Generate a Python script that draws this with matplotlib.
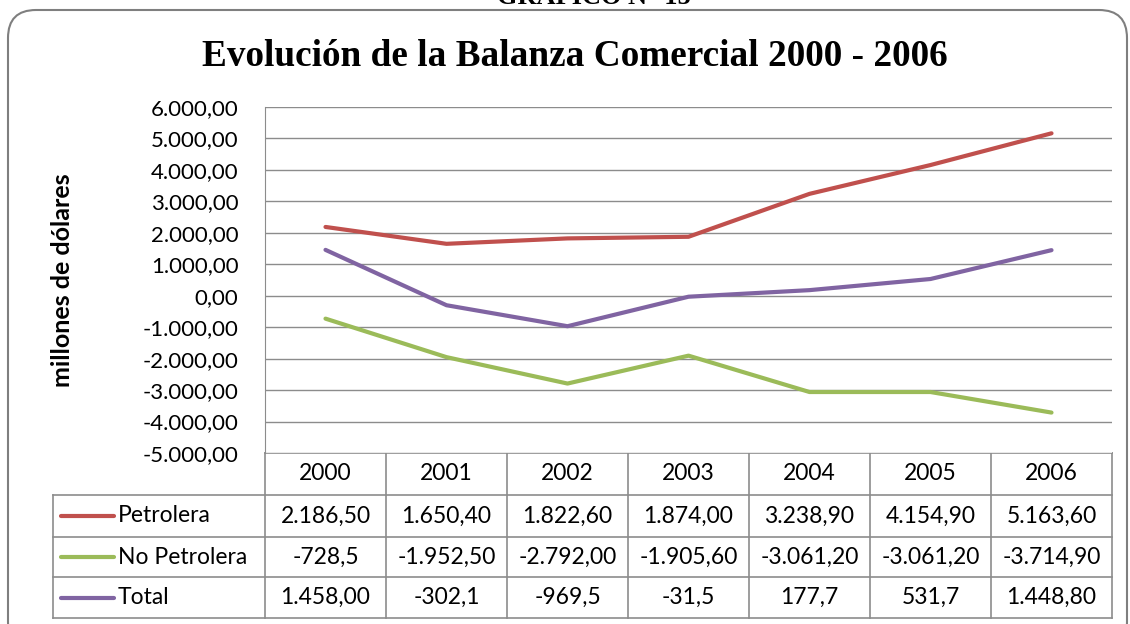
import numpy as np
import matplotlib.pyplot as plt
from matplotlib.patches import FancyBboxPatch

# data
years = ['2000', '2001', '2002', '2003', '2004', '2005', '2006']
petrolera = [2186.5, 1650.4, 1822.6, 1874.0, 3238.9, 4154.9, 5163.6]
no_petrolera = [-728.5, -1952.5, -2792.0, -1905.6, -3061.2, -3061.2, -3714.9]
total = [1458.0, -302.1, -969.5, -31.5, 177.7, 531.7, 1448.8]
petrolera_txt = ['2.186,50', '1.650,40', '1.822,60', '1.874,00', '3.238,90', '4.154,90', '5.163,60']
no_petrolera_txt = ['-728,5', '-1.952,50', '-2.792,00', '-1.905,60', '-3.061,20', '-3.061,20', '-3.714,90']
total_txt = ['1.458,00', '-302,1', '-969,5', '-31,5', '177,7', '531,7', '1.448,80']
y_ticks = list(range(-5000, 6001, 1000))

series = [('Petrolera', petrolera, petrolera_txt, '#C0504D'),
          ('No Petrolera', no_petrolera, no_petrolera_txt, '#9BBB59'),
          ('Total', total, total_txt, '#8064A2')]

W, H = 1130, 624
font = 'Lato'
grey = '#8C8C8C'
fs = 16.5

fig = plt.figure(figsize=(W / 100, H / 100), dpi=100)

# background axes in pixel coords for frame and table
bg = fig.add_axes([0, 0, 1, 1])
bg.set_xlim(0, W)
bg.set_ylim(H, 0)
bg.set_axis_off()

bg.add_patch(FancyBboxPatch((8, 10), 1119, 640, boxstyle='round,pad=0,rounding_size=28',
                            fc='white', ec='#7F7F7F', lw=1.5))
bg.text(594, 4, 'GRÁFICO N° 15', ha='center', va='baseline', fontsize=19,
        family='Liberation Serif', weight='bold')
bg.text(575, 57, 'Evolución de la Balanza Comercial 2000 - 2006', ha='center', va='center',
        fontsize=26.8, family='Liberation Serif', weight='bold')
bg.text(62, 280, 'millones de dólares', rotation=90, ha='center', va='center',
        fontsize=18, family=font, weight='bold')

# plot area
px0, px1, py0, py1 = 265, 1112, 107, 453
ax = fig.add_axes([px0 / W, 1 - py1 / H, (px1 - px0) / W, (py1 - py0) / H])
ax.set_xlim(-0.5, len(years) - 0.5)
ax.set_ylim(-5000, 6000)
ax.set_yticks(y_ticks)
ax.set_yticklabels([('{:,.2f}'.format(v)).replace(',', 'X').replace('.', ',').replace('X', '.')
                    for v in y_ticks], family=font, fontsize=16)
ax.set_xticks([])
ax.tick_params(axis='y', length=0, pad=19)
ax.grid(axis='y', color=grey, lw=1)
for s in ['top', 'right', 'bottom']:
    ax.spines[s].set_visible(False)
ax.spines['left'].set_color(grey)
ax.set_axisbelow(True)
x = np.arange(len(years))
for name, vals, txt, col in series:
    ax.plot(x, vals, color=col, lw=3.0, solid_capstyle='round', zorder=3)

# data table
cw = (px1 - px0) / len(years)
rows = [453, 495, 537, 577, 618]
tx0 = 53
for i, yy in enumerate(rows):
    bg.plot([px0 if i == 0 else tx0, px1], [yy, yy], color=grey, lw=1.2)
bg.plot([tx0, tx0], [rows[1], rows[-1]], color=grey, lw=1.2)
for k in range(len(years) + 1):
    bg.plot([px0 + k * cw] * 2, [rows[0], rows[-1]], color=grey, lw=1.2)
for k, yr in enumerate(years):
    bg.text(px0 + (k + 0.5) * cw, (rows[0] + rows[1]) / 2, yr, ha='center', va='center',
            family=font, fontsize=fs)
for r, (name, vals, txt, col) in enumerate(series):
    yc = (rows[r + 1] + rows[r + 2]) / 2
    bg.plot([61, 114], [yc, yc], color=col, lw=3.0, solid_capstyle='round')
    bg.text(118, yc, name, ha='left', va='center', family=font, fontsize=fs)
    for k, t in enumerate(txt):
        bg.text(px0 + (k + 0.5) * cw, yc, t, ha='center', va='center', family=font, fontsize=fs)

fig.savefig('out.png', dpi=100)
